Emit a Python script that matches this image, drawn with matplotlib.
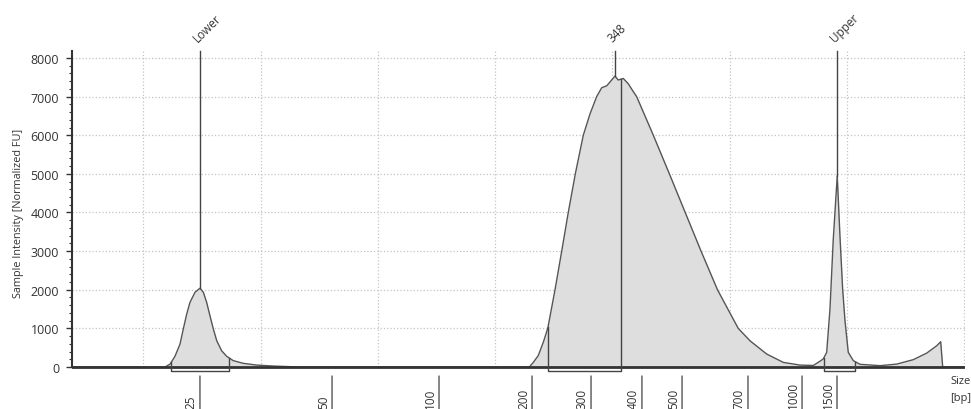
import numpy as np
import matplotlib.pyplot as plt
from matplotlib.ticker import MultipleLocator

plt.rcParams['font.family'] = ['Open Sans', 'DejaVu Sans']

# --- electropherogram trace (migration time [s], intensity [FU]) ---
trace_t = [14.0, 21.85, 22.28, 22.70, 23.13, 23.41, 23.70, 23.98, 24.41, 24.83,
           25.12, 25.40, 25.68, 25.97, 26.26, 26.68, 27.11, 27.67, 28.53, 29.67,
           31.08, 33.36, 52.91, 53.25, 53.67, 54.10, 54.48, 55.10, 55.67, 56.23,
           56.83, 57.51, 58.08, 58.65, 59.08, 59.51, 59.93, 60.21, 60.49, 60.92,
           61.35, 61.77, 62.06, 63.48, 64.85, 66.20, 67.55, 68.95, 70.72, 71.72,
           73.15, 74.56, 75.98, 77.12, 77.69, 77.97, 78.26, 78.54, 78.82, 79.16,
           79.39, 79.62, 79.82, 80.10, 80.53, 81.10, 82.80, 84.23, 85.64, 86.79,
           87.64, 87.98, 88.15, 89.90]
trace_fu = [0, 0, 75, 277, 595, 985, 1370, 1675, 1935, 2040,
            1935, 1675, 1330, 985, 680, 420, 277, 165, 95, 50,
            25, 0, 0, 120, 295, 640, 1000, 2000, 3000, 4000,
            5000, 6000, 6550, 7000, 7230, 7280, 7430, 7530, 7430, 7470,
            7330, 7130, 7000, 6000, 5000, 4000, 3000, 2000, 1000, 680,
            335, 120, 50, 40, 150, 210, 380, 1500, 3300, 4950,
            3400, 2020, 1200, 380, 165, 70, 35, 75, 190, 360,
            550, 655, 0, 0]

# peak markers
marker_t = [24.83, 60.21, 79.16]
marker_labels = ['Lower', '348', 'Upper']

# integrated regions
region_start = [22.37, 54.50, 78.03]
region_end = [27.31, 60.70, 80.67]

# size ladder labels [bp]
bp_labels = ['25', '50', '100', '200', '300', '400', '500', '700', '1000', '1500']
bp_t = [24.83, 36.09, 45.21, 53.14, 58.17, 62.51, 65.93, 71.55, 76.16, 79.14]

y_ticks = [0, 1000, 2000, 3000, 4000, 5000, 6000, 7000, 8000]
grid_t = [20, 30, 40, 50, 60, 70, 80, 90]

txt = '#333333'
ytop = 8181

fig = plt.figure(figsize=(9.71, 4.10), dpi=100)
ax = fig.add_axes([0.0745, 0.0878, 0.9193, 0.7854])
ax.set_xlim(13.95, 90.05)
ax.set_ylim(-155, ytop)

# grid
ax.hlines(y_ticks[1:], 13.95, 90.05, colors='#c4c4c4', linestyles=':', lw=0.9, zorder=0)
ax.vlines(grid_t, 0, ytop, colors='#c4c4c4', linestyles=':', lw=0.9, zorder=0)

# trace
ax.fill_between(trace_t, 0, trace_fu, color='#dedede', lw=0, zorder=1)
ax.plot(trace_t, trace_fu, color='#555555', lw=1.0, zorder=2)
ax.axhline(0, color='#333333', lw=2.0, zorder=3)

# region brackets
box_y = -115
for s, e in zip(region_start, region_end):
    ys = np.interp(s, trace_t, trace_fu)
    ye = np.interp(e, trace_t, trace_fu)
    ax.plot([s, s, e, e], [ys, box_y, box_y, ye], color='#444444', lw=1.0, zorder=4)

# peak markers + labels
for t, lab in zip(marker_t, marker_labels):
    yp = np.interp(t, trace_t, trace_fu)
    ax.plot([t, t], [yp, ytop], color='#444444', lw=1.0, zorder=4, clip_on=False)
    ax.annotate(lab, xy=(t, ytop), xytext=(0, 5), textcoords='offset points',
                rotation=45, rotation_mode='anchor', ha='left', va='bottom',
                fontsize=8.5, color=txt, annotation_clip=False)

# y axis
ax.set_yticks(y_ticks)
ax.yaxis.set_minor_locator(MultipleLocator(200))
ax.tick_params(axis='y', which='major', length=4.5, width=1, color='#333333',
               labelsize=9, labelcolor=txt, pad=5)
ax.tick_params(axis='y', which='minor', length=2.5, width=0.8, color='#333333')
for sp in ['top', 'right', 'bottom']:
    ax.spines[sp].set_visible(False)
ax.spines['left'].set_bounds(0, ytop)
ax.spines['left'].set_color('#333333')
ax.spines['left'].set_linewidth(1.5)
ax.set_ylabel('Sample Intensity [Normalized FU]', fontsize=7.8, color=txt)
ax.yaxis.set_label_coords(-0.054, 0.5)

# x axis: size ladder
ax.set_xticks([])
for t, lab in zip(bp_t, bp_labels):
    ax.annotate('', xy=(t, 0.0), xytext=(t, 0.0805),
                xycoords=('data', 'figure fraction'), textcoords=('data', 'figure fraction'),
                arrowprops=dict(arrowstyle='-', color='#555555', lw=1.0,
                                shrinkA=0, shrinkB=0), annotation_clip=False)
    ax.annotate(lab, xy=(t, 0.002), xycoords=('data', 'figure fraction'),
                xytext=(-1.5, 0), textcoords='offset points',
                rotation=90, ha='right', va='bottom', fontsize=8.5, color=txt,
                annotation_clip=False)

fig.text(950 / 971, 1 - 382 / 410, 'Size', ha='left', va='center', fontsize=8, color=txt)
fig.text(950 / 971, 1 - 399 / 410, '[bp]', ha='left', va='center', fontsize=8, color=txt)

fig.savefig('out.png', dpi=100)
